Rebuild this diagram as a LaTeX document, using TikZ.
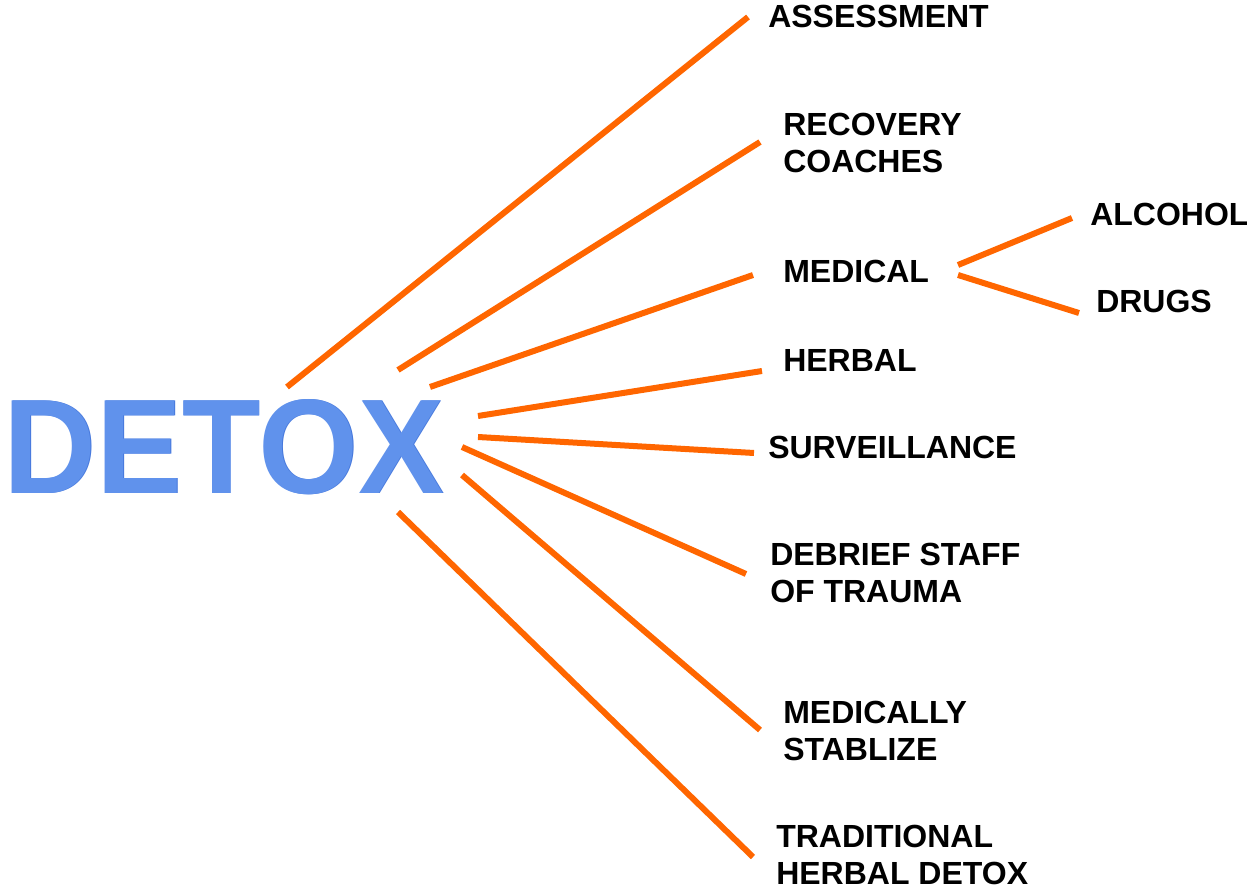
\documentclass[tikz,border=0pt]{standalone}
\usepackage{fontspec}
\setmainfont{Liberation Sans}
\begin{document}
\begin{tikzpicture}[x=0.75pt,y=-0.75pt,
  branch/.style={draw={rgb,255:red,255;green,102;blue,0}, line width=4.5pt},
  lbl/.style={anchor=west, inner sep=0pt, align=left, font=\fontsize{24pt}{28pt}\selectfont\bfseries},
  detox/.style={inner sep=0pt, font=\fontsize{101pt}{101pt}\selectfont\bfseries}]
\useasboundingbox (0,0) rectangle (1247,891);
% central word (slight darker rim under a lighter face)
\node[detox, xscale=0.955, text={rgb,255:red,70;green,120;blue,220}] at (224.6,447.6) {DETOX};
\node[detox, xscale=0.955, text={rgb,255:red,96;green,146;blue,236}] (D) at (224,447) {DETOX};
% labels
\node[lbl] (ass) at (768,16) {ASSESSMENT};
\node[lbl] (rec) at (783,143) {RECOVERY\\COACHES};
\node[lbl] (med) at (783,271) {MEDICAL};
\node[lbl] (her) at (783,360) {HERBAL};
\node[lbl] (sur) at (768,447) {SURVEILLANCE};
\node[lbl] (deb) at (770,573) {DEBRIEF STAFF\\OF TRAUMA};
\node[lbl] (mst) at (783,731) {MEDICALLY\\STABLIZE};
\node[lbl] (tra) at (776,855) {TRADITIONAL\\HERBAL DETOX};
\node[lbl] (alc) at (1090,214) {ALCOHOL};
\node[lbl] (dru) at (1096,301) {DRUGS};
% connector end points
\coordinate (s1) at (287,387); \coordinate (e1) at (748,17);
\coordinate (s2) at (398,370); \coordinate (e2) at (760,142);
\coordinate (s3) at (430,387); \coordinate (e3) at (753,275);
\coordinate (s4) at (478,416); \coordinate (e4) at (762,371);
\coordinate (s5) at (478,437); \coordinate (e5) at (754,453);
\coordinate (s6) at (462,447); \coordinate (e6) at (746,574);
\coordinate (s7) at (462,475); \coordinate (e7) at (760,730);
\coordinate (s8) at (398,512); \coordinate (e8) at (753,857);
\coordinate (m1) at (958,265); \coordinate (a1) at (1072,218);
\coordinate (m2) at (958,275); \coordinate (a2) at (1079,313);
\draw[branch] (s1) -- (e1);
\draw[branch] (s2) -- (e2);
\draw[branch] (s3) -- (e3);
\draw[branch] (s4) -- (e4);
\draw[branch] (s5) -- (e5);
\draw[branch] (s6) -- (e6);
\draw[branch] (s7) -- (e7);
\draw[branch] (s8) -- (e8);
\draw[branch] (m1) -- (a1);
\draw[branch] (m2) -- (a2);
\end{tikzpicture}
\end{document}
